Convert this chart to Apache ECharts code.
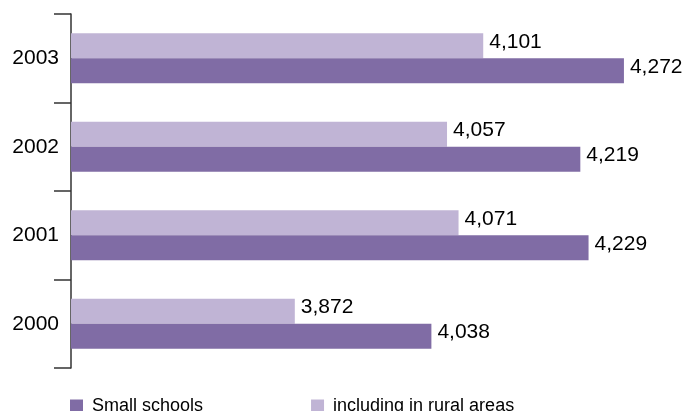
<!DOCTYPE html>
<html>
<head>
<meta charset="utf-8">
<script src="https://cdn.jsdelivr.net/npm/echarts@6/dist/echarts.min.js"></script>
<style>
html, body { margin: 0; padding: 0; background: #fff; }
#chartmain { width: 684px; height: 411px; }
</style>
</head>
<body>
<div id="chartmain"></div>
<script>
var years = ['2000', '2001', '2002', '2003'];
var smallSchools = [4038, 4229, 4219, 4272];
var ruralAreas = [3872, 4071, 4057, 4101];
var seriesNames = ['Small schools', 'including in rural areas'];

var fmt = function (p) {
	return p.value.toLocaleString('en-US');
};
var labelStyle = {
	show: true,
	position: 'right',
	distance: 6,
	offset: [0, -4],
	color: '#000',
	fontSize: 21,
	fontFamily: 'Liberation Sans',
	formatter: fmt
};

var option = {
	animation: false,
	grid: {
		left: 71,
		top: 14,
		right: 0,
		height: 354
	},
	legend: {
		data: seriesNames,
		left: 65,
		top: 392,
		itemWidth: 13,
		itemHeight: 13,
		itemGap: 108,
		icon: 'rect',
		textStyle: {
			color: '#000',
			fontSize: 18,
			fontFamily: 'Liberation Sans',
			padding: [0, 0, 0, 4]
		}
	},
	xAxis: {
		type: 'value',
		min: 3600,
		max: 4345,
		show: false
	},
	yAxis: {
		type: 'category',
		data: years,
		axisLine: { show: true, lineStyle: { color: '#333', width: 1.5 } },
		axisTick: { show: true, length: 17, lineStyle: { color: '#333', width: 1.5 } },
		axisLabel: {
			color: '#000',
			fontSize: 21,
			fontFamily: 'Liberation Sans',
			margin: 12
		}
	},
	series: [
		{
			name: seriesNames[1],
			type: 'bar',
			data: ruralAreas,
			barWidth: 25,
			barGap: 0,
			itemStyle: { color: '#c0b4d5' },
			label: labelStyle
		},
		{
			name: seriesNames[0],
			type: 'bar',
			data: smallSchools,
			barWidth: 25,
			barGap: 0,
			itemStyle: { color: '#806ca5' },
			label: labelStyle
		}
	]
};

var myChart = echarts.init(document.getElementById('chartmain'));
myChart.setOption(option);
</script>
</body>
</html>
